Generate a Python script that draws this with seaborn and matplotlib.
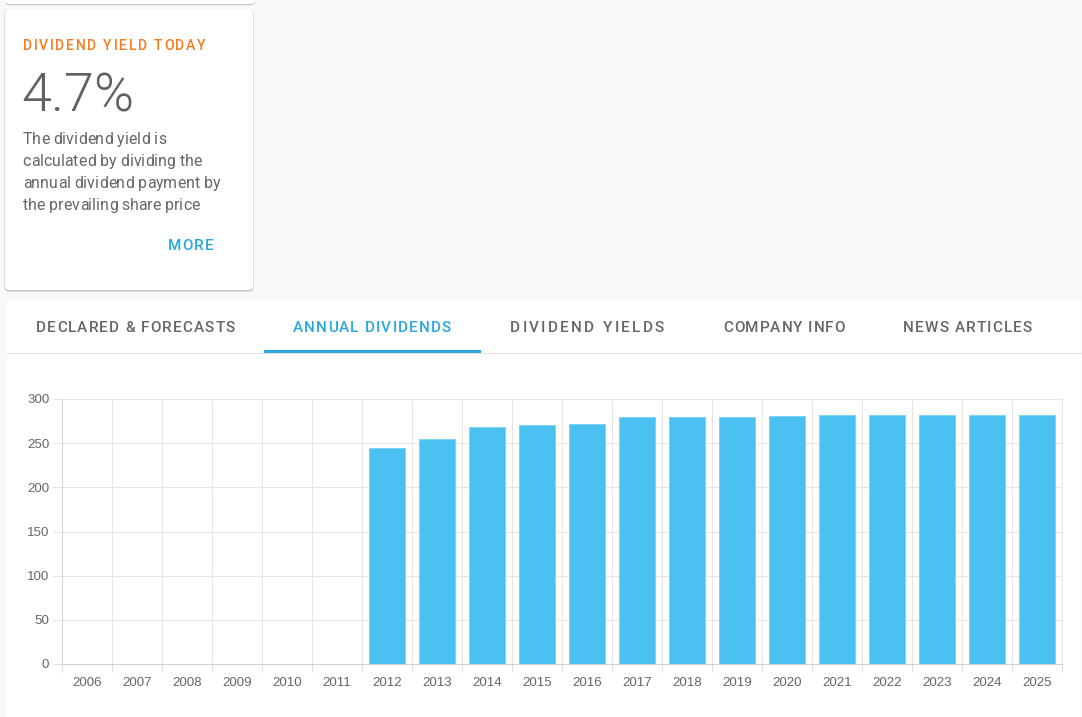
import matplotlib
matplotlib.use('Agg')
import matplotlib.pyplot as plt
import seaborn as sns
import pandas as pd
import numpy as np
from matplotlib.transforms import Affine2D
from matplotlib.patches import FancyBboxPatch
from matplotlib.lines import Line2D
from matplotlib.font_manager import FontProperties

# data
years = ['2006', '2007', '2008', '2009', '2010', '2011', '2012', '2013', '2014', '2015',
         '2016', '2017', '2018', '2019', '2020', '2021', '2022', '2023', '2024', '2025']
dividends = [np.nan, np.nan, np.nan, np.nan, np.nan, np.nan, 245, 255, 268, 270,
             272, 280, 280, 280, 281, 282, 282, 282, 282, 282]
tab_labels = ['DECLARED & FORECASTS', 'ANNUAL DIVIDENDS', 'DIVIDEND YIELDS', 'COMPANY INFO', 'NEWS ARTICLES']
active_tab = 'ANNUAL DIVIDENDS'
card_title = 'DIVIDEND YIELD TODAY'
card_value = '4.7%'
card_lines = ['The dividend yield is', 'calculated by dividing the',
              'annual dividend payment by', 'the prevailing share price']

bar_color = '#4ac1f0'
blue = '#2aa8de'
orange = '#f47b20'
grey_text = '#666666'
grid_color = '#e6e6e6'

W, H = 1082, 717
fig = plt.figure(figsize=(W / 100, H / 100), dpi=100, facecolor='#f8f8f8')
# pixel coordinates, origin top-left
px = Affine2D().scale(1 / W, -1 / H).translate(0, 1) + fig.transFigure
renderer = fig.canvas.get_renderer()


def text_width(s, prop):
    return renderer.get_text_width_height_descent(s, prop, ismath=False)[0]


def box(x0, y0, x1, y1, color, r=0.0, z=-5):
    style = f'round,pad=0,rounding_size={r}' if r else 'square,pad=0'
    fig.add_artist(FancyBboxPatch((x0, y0), x1 - x0, y1 - y0, boxstyle=style,
                                  transform=px, facecolor=color, edgecolor='none', zorder=z))


def spaced_text(x, y, s, size, color, width=None, weight='normal', family='Roboto'):
    # matplotlib has no letter-spacing, so lay the characters out one by one
    prop = FontProperties(family=family, size=size, weight=weight)
    ref = text_width('.', prop)
    offs = [text_width(s[:i] + '.', prop) - ref if i else 0.0 for i in range(len(s))]
    natural = offs[-1] + text_width(s[-1], prop)
    spacing = max((width - natural) / (len(s) - 1), 0.0) if width else 0.0
    for i, ch in enumerate(s):
        if ch == ' ':
            continue
        fig.text(x + offs[i] + spacing * i, y, ch, transform=px, fontproperties=prop,
                 color=color, va='baseline', ha='left', zorder=5)


# page pieces: partial card on top, yield card, tab panel
box(5, -10, 255, 5.2, '#c8c8c8', r=4, z=-6)
box(5, -10, 255, 4, 'white', r=4)
box(4.5, 10, 253.5, 291.5, '#c4c4c4', r=4.5, z=-6)
box(5, 10, 253, 290, 'white', r=4)
box(7, 299, 1081, 720, 'white', z=-6)
fig.add_artist(Line2D([7, 1081], [352.5, 352.5], transform=px, color='#e0e0e0', lw=0.8, zorder=-4))

# card texts
spaced_text(22.7, 50, card_title, 10, orange, width=183, weight=500)
fig.text(21.5, 111, card_value, transform=px, family='Roboto', size=39, weight=300,
         color='#616161', va='baseline', ha='left', zorder=5)
for line, base, wd in zip(card_lines, [144, 166, 188, 210], [143, 179, 196.3, 177.3]):
    spaced_text(22.7, base, line, 11.4, grey_text, width=wd)
spaced_text(167.7, 250, 'MORE', 11, blue, width=46.3, weight=500)

# tabs
tab_left = [36, 293, 510, 723, 903]
tab_width = [199, 158, 154, 122, 129]
for lbl, x0, wd in zip(tab_labels, tab_left, tab_width):
    spaced_text(x0, 332, lbl, 11, blue if lbl == active_tab else grey_text, width=wd, weight=500)
box(264, 350, 481, 352.8, blue, z=-3)

# chart
ax = fig.add_axes([62 / W, (H - 664) / H, 1000 / W, 265 / H])
ax.set_facecolor('none')
df = pd.DataFrame({'year': years, 'dividend': pd.Series(dividends, dtype=float)})
sns.barplot(data=df, x='year', y='dividend', order=years, color=bar_color, saturation=1,
            width=0.72, errorbar=None, edgecolor='#80d3f4', linewidth=0.75, ax=ax)
ax.set_xlabel('')
ax.set_ylabel('')
ax.set_xlim(-0.5, 19.5)
ax.set_ylim(0, 300)
ax.set_yticks(range(0, 301, 50))
ax.set_xticks(np.arange(-0.5, 20, 1), minor=True)
ax.tick_params(axis='x', which='major', length=0, pad=9.5, labelsize=9.6, labelcolor=grey_text)
ax.tick_params(axis='x', which='minor', length=6, color='#e0e0e0', width=0.75)
ax.tick_params(axis='y', length=6.2, pad=2.9, color='#e0e0e0', width=0.75, labelsize=9.6, labelcolor=grey_text)
ax.grid(axis='y', which='major', color=grid_color, lw=0.75)
ax.grid(axis='x', which='minor', color=grid_color, lw=0.75)
ax.set_axisbelow(True)
for side in ['left', 'bottom']:
    ax.spines[side].set_color('#d2d2d2')
    ax.spines[side].set_linewidth(0.75)
for side in ['top', 'right']:
    ax.spines[side].set_color(grid_color)
    ax.spines[side].set_linewidth(0.75)
for lbl in ax.get_xticklabels() + ax.get_yticklabels():
    lbl.set_fontfamily(['Liberation Sans', 'DejaVu Sans'])

fig.savefig('out.png', dpi=100, facecolor=fig.get_facecolor())
